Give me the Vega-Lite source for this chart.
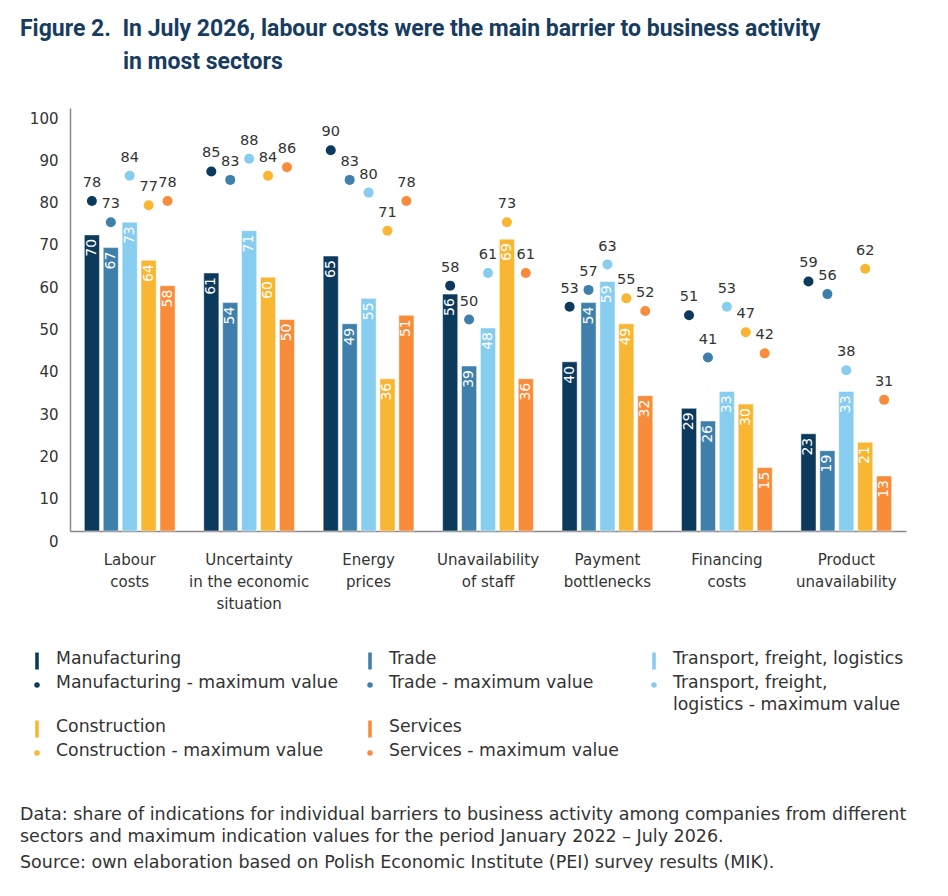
{
  "$schema": "https://vega.github.io/schema/vega-lite/v6.json",
  "background": "white",
  "padding": {"left": 20, "top": 18, "right": 10, "bottom": 14},
  "bounds": "flush",
  "spacing": 110,
  "config": {
    "font": "DejaVu Sans",
    "view": {"stroke": null}
  },
  "datasets": {
    "bars": [
      {"barrier": "Labour|costs", "sector": "Manufacturing", "value": 70, "max": 78},
      {"barrier": "Labour|costs", "sector": "Trade", "value": 67, "max": 73},
      {"barrier": "Labour|costs", "sector": "Transport, freight, logistics", "value": 73, "max": 84},
      {"barrier": "Labour|costs", "sector": "Construction", "value": 64, "max": 77},
      {"barrier": "Labour|costs", "sector": "Services", "value": 58, "max": 78},
      {"barrier": "Uncertainty|in the economic|situation", "sector": "Manufacturing", "value": 61, "max": 85},
      {"barrier": "Uncertainty|in the economic|situation", "sector": "Trade", "value": 54, "max": 83},
      {"barrier": "Uncertainty|in the economic|situation", "sector": "Transport, freight, logistics", "value": 71, "max": 88},
      {"barrier": "Uncertainty|in the economic|situation", "sector": "Construction", "value": 60, "max": 84},
      {"barrier": "Uncertainty|in the economic|situation", "sector": "Services", "value": 50, "max": 86},
      {"barrier": "Energy|prices", "sector": "Manufacturing", "value": 65, "max": 90},
      {"barrier": "Energy|prices", "sector": "Trade", "value": 49, "max": 83},
      {"barrier": "Energy|prices", "sector": "Transport, freight, logistics", "value": 55, "max": 80},
      {"barrier": "Energy|prices", "sector": "Construction", "value": 36, "max": 71},
      {"barrier": "Energy|prices", "sector": "Services", "value": 51, "max": 78},
      {"barrier": "Unavailability|of staff", "sector": "Manufacturing", "value": 56, "max": 58},
      {"barrier": "Unavailability|of staff", "sector": "Trade", "value": 39, "max": 50},
      {"barrier": "Unavailability|of staff", "sector": "Transport, freight, logistics", "value": 48, "max": 61},
      {"barrier": "Unavailability|of staff", "sector": "Construction", "value": 69, "max": 73},
      {"barrier": "Unavailability|of staff", "sector": "Services", "value": 36, "max": 61},
      {"barrier": "Payment|bottlenecks", "sector": "Manufacturing", "value": 40, "max": 53},
      {"barrier": "Payment|bottlenecks", "sector": "Trade", "value": 54, "max": 57},
      {"barrier": "Payment|bottlenecks", "sector": "Transport, freight, logistics", "value": 59, "max": 63},
      {"barrier": "Payment|bottlenecks", "sector": "Construction", "value": 49, "max": 55},
      {"barrier": "Payment|bottlenecks", "sector": "Services", "value": 32, "max": 52},
      {"barrier": "Financing|costs", "sector": "Manufacturing", "value": 29, "max": 51},
      {"barrier": "Financing|costs", "sector": "Trade", "value": 26, "max": 41},
      {"barrier": "Financing|costs", "sector": "Transport, freight, logistics", "value": 33, "max": 53},
      {"barrier": "Financing|costs", "sector": "Construction", "value": 30, "max": 47},
      {"barrier": "Financing|costs", "sector": "Services", "value": 15, "max": 42},
      {"barrier": "Product|unavailability", "sector": "Manufacturing", "value": 23, "max": 59},
      {"barrier": "Product|unavailability", "sector": "Trade", "value": 19, "max": 56},
      {"barrier": "Product|unavailability", "sector": "Transport, freight, logistics", "value": 33, "max": 38},
      {"barrier": "Product|unavailability", "sector": "Construction", "value": 21, "max": 62},
      {"barrier": "Product|unavailability", "sector": "Services", "value": 13, "max": 31}
    ],
    "legend": [
      {"col": 0, "row": 0, "kind": "bar", "sector": "Manufacturing", "label": "Manufacturing"},
      {"col": 0, "row": 1, "kind": "dot", "sector": "Manufacturing", "label": "Manufacturing - maximum value"},
      {"col": 1, "row": 0, "kind": "bar", "sector": "Trade", "label": "Trade"},
      {"col": 1, "row": 1, "kind": "dot", "sector": "Trade", "label": "Trade - maximum value"},
      {"col": 2, "row": 0, "kind": "bar", "sector": "Transport, freight, logistics", "label": "Transport, freight, logistics"},
      {"col": 2, "row": 1, "kind": "dot", "sector": "Transport, freight, logistics", "label": "Transport, freight,\nlogistics - maximum value"},
      {"col": 0, "row": 2, "kind": "bar", "sector": "Construction", "label": "Construction"},
      {"col": 0, "row": 3, "kind": "dot", "sector": "Construction", "label": "Construction - maximum value"},
      {"col": 1, "row": 2, "kind": "bar", "sector": "Services", "label": "Services"},
      {"col": 1, "row": 3, "kind": "dot", "sector": "Services", "label": "Services - maximum value"}
    ]
  },
  "vconcat": [
    {
      "width": 836,
      "height": 423,
      "title": {
        "text": ["Figure 2.\u00a0\u00a0In July 2026, labour costs were the main barrier to business activity", "\u200b\u00a0\u00a0\u00a0\u00a0\u00a0\u00a0\u00a0\u00a0\u00a0\u00a0\u00a0\u00a0\u00a0\u00a0\u00a0\u00a0\u00a0\u00a0in most sectors"],
        "anchor": "start",
        "frame": "group",
        "dx": -50,
        "offset": 34,
        "font": "Roboto",
        "fontSize": 23,
        "fontWeight": "bold",
        "color": "#173c5f",
        "lineHeight": 33
      },
      "data": {"name": "bars"},
      "encoding": {
        "x": {
          "field": "barrier",
          "type": "nominal",
          "sort": null,
          "scale": {"paddingInner": 0.24, "paddingOuter": 0.12},
          "axis": {
            "title": null,
            "labelExpr": "split(datum.label, '|')",
            "labelAngle": 0,
            "ticks": false,
            "domainColor": "#8a8a8a",
            "domainWidth": 1.5,
            "labelFontSize": 15,
            "labelColor": "#333333",
            "labelLineHeight": 22,
            "labelPadding": 21,
            "labelBaseline": "top"
          }
        },
        "xOffset": {
          "field": "sector",
          "type": "nominal",
          "sort": ["Manufacturing", "Trade", "Transport, freight, logistics", "Construction", "Services"],
          "scale": {"paddingInner": 0.2}
        },
        "color": {
          "field": "sector",
          "type": "nominal",
          "scale": {
            "domain": ["Manufacturing", "Trade", "Transport, freight, logistics", "Construction", "Services"],
            "range": ["#0b3a5c", "#3e80ab", "#86cdf0", "#f8b632", "#f98c3a"]
          },
          "legend": null
        }
      },
      "layer": [
        {
          "mark": {"type": "bar", "stroke": "white", "strokeWidth": 0.5},
          "encoding": {
            "y": {
              "field": "value",
              "type": "quantitative",
              "scale": {"domain": [0, 100], "nice": false},
              "axis": {
                "title": null,
                "values": [0, 10, 20, 30, 40, 50, 60, 70, 80, 90, 100],
                "grid": false,
                "ticks": false,
                "domainColor": "#8a8a8a",
                "domainWidth": 1.5,
                "labelFontSize": 15,
                "labelColor": "#333333",
                "labelPadding": 12,
                "labelOffset": 10
              }
            }
          }
        },
        {
          "mark": {"type": "text", "angle": 270, "align": "right", "baseline": "middle", "dx": -4, "fontSize": 14},
          "encoding": {
            "y": {"field": "value", "type": "quantitative"},
            "text": {"field": "value", "type": "quantitative"},
            "color": {"value": "white"}
          }
        },
        {
          "mark": {"type": "point", "filled": true, "size": 100, "opacity": 1},
          "encoding": {
            "y": {"field": "max", "type": "quantitative"}
          }
        },
        {
          "mark": {"type": "text", "dy": -18, "fontSize": 14.5},
          "encoding": {
            "y": {"field": "max", "type": "quantitative"},
            "text": {"field": "max", "type": "quantitative"},
            "color": {"value": "#333333"}
          }
        }
      ]
    },
    {
      "width": 836,
      "height": 120,
      "title": {
        "text": ["Data: share of indications for individual barriers to business activity among companies from different", "sectors and maximum indication values for the period January 2022 \u2013 July 2026."],
        "subtitle": "Source: own elaboration based on Polish Economic Institute (PEI) survey results (MIK).",
        "orient": "bottom",
        "anchor": "start",
        "frame": "group",
        "dx": -50,
        "offset": 45,
        "baseline": "top",
        "fontSize": 17.5,
        "fontWeight": "normal",
        "color": "#333333",
        "lineHeight": 22,
        "subtitleFontSize": 17.5,
        "subtitleColor": "#333333",
        "subtitlePadding": 8
      },
      "data": {"name": "legend"},
      "encoding": {
        "x": {
          "field": "col",
          "type": "quantitative",
          "scale": {"domain": [0, 1, 2], "range": [-33, 300, 584]},
          "axis": null
        },
        "y": {
          "field": "row",
          "type": "quantitative",
          "scale": {"domain": [0, 1, 2, 3], "range": [20, 44, 88, 112]},
          "axis": null
        },
        "color": {
          "field": "sector",
          "type": "nominal",
          "scale": {
            "domain": ["Manufacturing", "Trade", "Transport, freight, logistics", "Construction", "Services"],
            "range": ["#0b3a5c", "#3e80ab", "#86cdf0", "#f8b632", "#f98c3a"]
          },
          "legend": null
        }
      },
      "layer": [
        {
          "transform": [{"filter": "datum.kind === 'bar'"}],
          "mark": {"type": "point", "filled": true, "opacity": 1, "shape": "M-0.21,-1H0.21V1H-0.21Z", "size": 289}
        },
        {
          "transform": [{"filter": "datum.kind === 'dot'"}],
          "mark": {"type": "point", "filled": true, "opacity": 1, "shape": "circle", "size": 30}
        },
        {
          "mark": {"type": "text", "align": "left", "baseline": "top", "dx": 19, "dy": -11, "fontSize": 17.3, "lineHeight": 22, "lineBreak": "\n"},
          "encoding": {
            "text": {"field": "label"},
            "color": {"value": "#333333"}
          }
        }
      ]
    }
  ]
}
